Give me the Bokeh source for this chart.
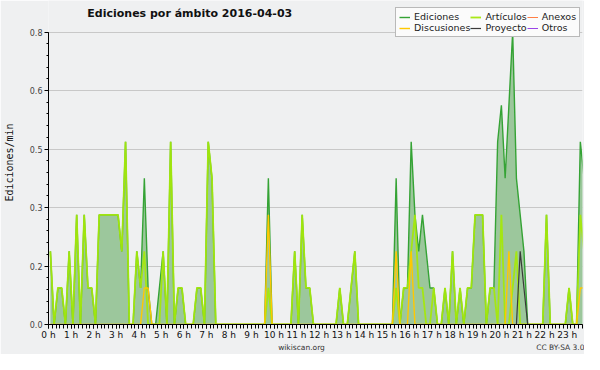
from bokeh.plotting import figure
from bokeh.models import Range1d, FixedTicker, Legend, LegendItem, Label, LinearAxis
from bokeh.embed import file_html
from bokeh.resources import INLINE

# 10-minute buckets from 00:00 (edits per minute)
ediciones = [
    0.2, 0, 0.1, 0.1, 0, 0.2, 0, 0.3, 0, 0.3,
    0.1, 0.1, 0, 0.3, 0.3, 0.3, 0.3, 0.3, 0.3, 0.2,
    0.5, 0, 0, 0.2, 0.1, 0.4, 0.1, 0, 0, 0.1,
    0.2, 0, 0.5, 0, 0.1, 0.1, 0, 0, 0, 0.1,
    0.1, 0, 0.5, 0.4, 0, 0, 0, 0, 0, 0,
    0, 0, 0, 0, 0, 0, 0, 0, 0.4, 0,
    0, 0, 0, 0, 0, 0.2, 0, 0.3, 0.1, 0.1,
    0, 0, 0, 0, 0, 0, 0, 0.1, 0, 0,
    0.1, 0.2, 0, 0, 0, 0, 0, 0, 0, 0,
    0, 0, 0.4, 0, 0.1, 0.1, 0.5, 0.3, 0.2, 0.3,
    0.2, 0.1, 0.1, 0, 0, 0.1, 0, 0.2, 0, 0.1,
    0, 0.1, 0.1, 0.3, 0.3, 0.3, 0, 0.1, 0.1, 0.5,
    0.6, 0.4, 0.6, 0.8, 0.4, 0.3, 0.2, 0, 0, 0,
    0, 0, 0.3, 0, 0, 0, 0, 0, 0.1, 0,
    0, 0.5, 0.4,
]
articulos = [
    0.2, 0, 0.1, 0.1, 0, 0.2, 0, 0.3, 0, 0.3,
    0.1, 0.1, 0, 0.3, 0.3, 0.3, 0.3, 0.3, 0.3, 0.2,
    0.5, 0, 0, 0.2, 0.1, 0.2, 0, 0, 0, 0,
    0.2, 0, 0.5, 0, 0.1, 0.1, 0, 0, 0, 0.1,
    0.1, 0, 0.5, 0.4, 0, 0, 0, 0, 0, 0,
    0, 0, 0, 0, 0, 0, 0, 0, 0.1, 0,
    0, 0, 0, 0, 0, 0.2, 0, 0.3, 0.1, 0.1,
    0, 0, 0, 0, 0, 0, 0, 0.1, 0, 0,
    0.1, 0.2, 0, 0, 0, 0, 0, 0, 0, 0,
    0, 0, 0.1, 0, 0.1, 0.1, 0.2, 0.3, 0.1, 0.1,
    0, 0, 0.1, 0, 0, 0.1, 0, 0.2, 0, 0.1,
    0, 0.1, 0.1, 0.3, 0.3, 0.3, 0, 0.1, 0.1, 0,
    0.3, 0, 0, 0.1, 0.2, 0, 0, 0, 0, 0,
    0, 0, 0.3, 0, 0, 0, 0, 0, 0.1, 0,
    0, 0.3, 0.2,
]
discusiones = [
    0, 0, 0, 0, 0, 0, 0, 0, 0, 0,
    0, 0, 0, 0, 0, 0, 0, 0, 0, 0,
    0, 0, 0, 0, 0, 0.1, 0.1, 0, 0, 0,
    0, 0, 0, 0, 0, 0, 0, 0, 0, 0,
    0, 0, 0, 0, 0, 0, 0, 0, 0, 0,
    0, 0, 0, 0, 0, 0, 0, 0, 0.3, 0,
    0, 0, 0, 0, 0, 0, 0, 0, 0, 0,
    0, 0, 0, 0, 0, 0, 0, 0, 0, 0,
    0, 0, 0, 0, 0, 0, 0, 0, 0, 0,
    0, 0, 0.2, 0, 0, 0, 0.2, 0, 0, 0,
    0, 0, 0, 0, 0, 0, 0, 0, 0, 0,
    0, 0, 0, 0, 0, 0, 0, 0, 0, 0,
    0, 0, 0.2, 0, 0, 0, 0, 0, 0, 0,
    0, 0, 0, 0, 0, 0, 0, 0, 0, 0,
    0, 0.1, 0.1,
]
proyecto = [
    0, 0, 0, 0, 0, 0, 0, 0, 0, 0,
    0, 0, 0, 0, 0, 0, 0, 0, 0, 0,
    0, 0, 0, 0, 0, 0, 0, 0, 0, 0,
    0, 0, 0, 0, 0, 0, 0, 0, 0, 0,
    0, 0, 0, 0, 0, 0, 0, 0, 0, 0,
    0, 0, 0, 0, 0, 0, 0, 0, 0, 0,
    0, 0, 0, 0, 0, 0, 0, 0, 0, 0,
    0, 0, 0, 0, 0, 0, 0, 0, 0, 0,
    0, 0, 0, 0, 0, 0, 0, 0, 0, 0,
    0, 0, 0, 0, 0, 0, 0, 0, 0, 0,
    0, 0, 0, 0, 0, 0, 0, 0, 0, 0,
    0, 0, 0, 0, 0, 0, 0, 0, 0, 0,
    0, 0, 0, 0, 0, 0.2, 0.1, 0, 0, 0,
    0, 0, 0, 0, 0, 0, 0, 0, 0, 0,
    0, 0, 0,
]
# no Anexos / Otros edits are visible on this day
anexos = [
    0, 0, 0, 0, 0, 0, 0, 0, 0, 0, 0, 0, 0, 0, 0, 0, 0, 0, 0, 0,
    0, 0, 0, 0, 0, 0, 0, 0, 0, 0, 0, 0, 0, 0, 0, 0, 0, 0, 0, 0,
    0, 0, 0, 0, 0, 0, 0, 0, 0, 0, 0, 0, 0, 0, 0, 0, 0, 0, 0, 0,
    0, 0, 0, 0, 0, 0, 0, 0, 0, 0, 0, 0, 0, 0, 0, 0, 0, 0, 0, 0,
    0, 0, 0, 0, 0, 0, 0, 0, 0, 0, 0, 0, 0, 0, 0, 0, 0, 0, 0, 0,
    0, 0, 0, 0, 0, 0, 0, 0, 0, 0, 0, 0, 0, 0, 0, 0, 0, 0, 0, 0,
    0, 0, 0, 0, 0, 0, 0, 0, 0, 0, 0, 0, 0, 0, 0, 0, 0, 0, 0, 0,
    0, 0, 0,
]
otros = [
    0, 0, 0, 0, 0, 0, 0, 0, 0, 0, 0, 0, 0, 0, 0, 0, 0, 0, 0, 0,
    0, 0, 0, 0, 0, 0, 0, 0, 0, 0, 0, 0, 0, 0, 0, 0, 0, 0, 0, 0,
    0, 0, 0, 0, 0, 0, 0, 0, 0, 0, 0, 0, 0, 0, 0, 0, 0, 0, 0, 0,
    0, 0, 0, 0, 0, 0, 0, 0, 0, 0, 0, 0, 0, 0, 0, 0, 0, 0, 0, 0,
    0, 0, 0, 0, 0, 0, 0, 0, 0, 0, 0, 0, 0, 0, 0, 0, 0, 0, 0, 0,
    0, 0, 0, 0, 0, 0, 0, 0, 0, 0, 0, 0, 0, 0, 0, 0, 0, 0, 0, 0,
    0, 0, 0, 0, 0, 0, 0, 0, 0, 0, 0, 0, 0, 0, 0, 0, 0, 0, 0, 0,
    0, 0, 0,
]
hours = list(range(24))
hour_labels = [f"{h} h" for h in hours]
y_ticks = [0.0, 0.16, 0.32, 0.48, 0.64, 0.8]
y_tick_labels = ["0.0", "0.2", "0.3", "0.5", "0.6", "0.8"]
title_text = "Ediciones por ámbito  2016-04-03"
footer_texts = ["wikiscan.org", "CC BY-SA 3.0"]

# bucket centres in hours
t = [(10 * i + 5) / 60 for i in range(len(ediciones))]

FONT = "DejaVu Sans"
BG = "#eff0f1"

# frame spans the full height so the title and legend sit inside it;
# the y axis itself is bounded to 0..0.8
p = figure(width=584, height=354, output_backend="svg", toolbar_location=None,
           x_range=Range1d(0, 23.68), y_range=Range1d(0, 0.8865),
           min_border_left=46, min_border_right=2, min_border_top=0,
           min_border_bottom=26)

p.background_fill_color = BG
p.border_fill_color = BG
p.outline_line_color = None

r_anex = p.line(t, anexos, line_color="#ff7f45", line_width=1)
r_otros = p.line(t, otros, line_color="#9b45e8", line_width=1)
area = p.varea(x=t, y1=0, y2=ediciones, fill_color="#9cc79c", fill_alpha=1.0)
r_ed = p.line(t, ediciones, line_color="#35a335", line_width=1.4)
r_art = p.line(t, articulos, line_color="#a4e80c", line_width=1.8, line_alpha=0.95)
r_disc = p.line(t, discusiones, line_color="#ffc800", line_width=1.4)
r_proy = p.line(t, proyecto, line_color="#3a3a3a", line_width=1.2)

# axes
p.xaxis.ticker = FixedTicker(ticks=hours, minor_ticks=[k / 6 for k in range(0, 145)])
p.xaxis.major_label_overrides = {h: lab for h, lab in zip(hours, hour_labels)}
p.yaxis.ticker = FixedTicker(ticks=y_ticks, minor_ticks=[k * 0.032 for k in range(26)])
p.yaxis.major_label_overrides = {v: lab for v, lab in zip(y_ticks, y_tick_labels)}
p.yaxis.bounds = (0, 0.8)

for ax in (p.xaxis[0], p.yaxis[0]):
    ax.axis_line_color = "black"
    ax.axis_line_width = 1
    ax.major_tick_line_color = "black"
    ax.minor_tick_line_color = "black"
    ax.major_tick_line_width = 1
    ax.minor_tick_line_width = 1
    ax.major_tick_in = 0
    ax.minor_tick_in = 0
    ax.major_label_text_font = FONT

p.xaxis.major_tick_out = 4
p.xaxis.minor_tick_out = 4
p.xaxis.major_label_standoff = 1
p.xaxis.major_label_text_font_size = "9px"
p.xaxis.major_label_text_color = "#111111"

p.yaxis.major_tick_out = 4
p.yaxis.minor_tick_out = 2
p.yaxis.major_label_standoff = 2
p.yaxis.major_label_text_font_size = "8px"
p.yaxis.major_label_text_color = "#444444"
p.yaxis.axis_label = "Ediciones/min"
p.yaxis.axis_label_text_font = "DejaVu Sans Mono"
p.yaxis.axis_label_text_font_size = "10px"
p.yaxis.axis_label_text_font_style = "normal"
p.yaxis.axis_label_standoff = 12
p.yaxis.axis_label_text_color = "#111111"

# footer line (wikiscan.org / licence) as an unruled second axis
footer = LinearAxis(ticker=FixedTicker(ticks=[11.22, 22.8]),
                    major_label_overrides={11.22: footer_texts[0], 22.8: footer_texts[1]},
                    axis_line_color=None, major_tick_line_color=None,
                    minor_tick_line_color=None, major_tick_out=0, major_tick_in=0,
                    major_label_standoff=0, major_label_text_font=FONT,
                    major_label_text_font_size="7.5px", major_label_text_color="#333333")
p.add_layout(footer, "below")

p.xgrid.visible = False
p.ygrid.grid_line_color = "#c8c8c8"
p.ygrid.grid_line_width = 1

p.add_layout(Label(x=1.72, y=0.851, text=title_text, text_font=FONT,
                   text_font_size="11px", text_font_style="bold",
                   text_color="#111111", text_align="left", text_baseline="middle"))

legend = Legend(items=[
    LegendItem(label="Ediciones", renderers=[r_ed]),
    LegendItem(label="Discusiones", renderers=[r_disc]),
    LegendItem(label="Artículos", renderers=[r_art]),
    LegendItem(label="Proyecto", renderers=[r_proy]),
    LegendItem(label="Anexos", renderers=[r_anex]),
    LegendItem(label="Otros", renderers=[r_otros]),
], ncols=3, location=(347, 287))
legend.background_fill_color = "#fbfbfb"
legend.background_fill_alpha = 1.0
legend.border_line_color = "#777777"
legend.border_line_width = 1
legend.padding = 3
legend.margin = 0
legend.spacing = 0
legend.label_standoff = 4
legend.glyph_width = 11
legend.glyph_height = 10
legend.label_height = 10
legend.label_text_font = FONT
legend.label_text_font_size = "9.5px"
legend.label_text_color = "#222222"
legend.label_text_line_height = 1.0
p.add_layout(legend)

open("out.html", "w").write(file_html(p, INLINE))
